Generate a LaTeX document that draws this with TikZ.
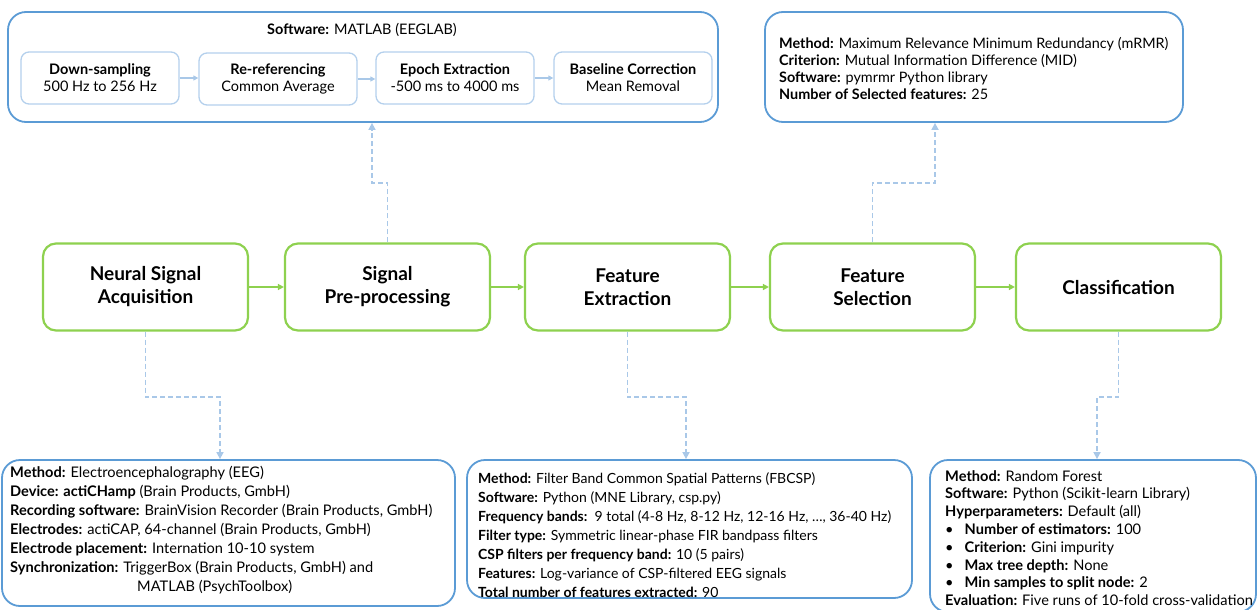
\documentclass[tikz,border=0pt]{standalone}
\usepackage{fontspec}
\setmainfont{Lato}
\usetikzlibrary{arrows.meta}
\definecolor{grn}{HTML}{8ED14F}
\definecolor{bluebd}{HTML}{5B9BD5}
\definecolor{lblue}{HTML}{A9C8E8}
\definecolor{subbd}{HTML}{B4D0EC}
\begin{document}
\begin{tikzpicture}[x=1pt,y=-1pt,
  stage/.style={draw=grn, line width=2.2pt, rounded corners=13pt, minimum width=205pt, minimum height=87pt, align=center, font=\fontsize{19}{23}\selectfont\bfseries, fill=white},
  infobox/.style={draw=bluebd, line width=1.8pt, rounded corners=18pt},
  substep/.style={draw=subbd, line width=1.3pt, rounded corners=8pt, minimum width=158pt, minimum height=52pt, align=center, font=\fontsize{14.5}{17}\selectfont},
  infotext/.style={align=left, inner sep=0pt},
  flow/.style={draw=grn, line width=2pt, -{Triangle[length=6pt,width=6pt]}},
  subflow/.style={draw=lblue, line width=1.5pt, -{Triangle[length=5pt,width=5pt]}},
  link/.style={draw=lblue, line width=1.6pt, dash pattern=on 5pt off 3pt, -{Triangle[length=7pt,width=7pt]}}
]
\useasboundingbox (0,0) rectangle (1258,610);

% main stages
\node[stage] (acq)  at (145.5,287) {Neural Signal\\Acquisition};
\node[stage] (pre)  at (387.5,287) {Signal\\Pre-processing};
\node[stage] (fext) at (627.5,287) {Feature\\Extraction};
\node[stage] (fsel) at (872.5,287) {Feature\\Selection};
\node[stage] (cls)  at (1118.5,287) {Classification};
\draw[flow] (acq) -- (pre);
\draw[flow] (pre) -- (fext);
\draw[flow] (fext) -- (fsel);
\draw[flow] (fsel) -- (cls);

% pre-processing box
\node[infobox, minimum width=710pt, minimum height=110pt] (prebox) at (363,67) {};
\node[font=\fontsize{14.5}{17}\selectfont] (presw) at (362,30) {\textbf{Software:} MATLAB (EEGLAB)};
\node[substep] (ds) at (100,78) {\textbf{Down-sampling}\\500 Hz to 256 Hz};
\node[substep] (rr) at (278,79) {\textbf{Re-referencing}\\Common Average};
\node[substep] (ep) at (455,78) {\textbf{Epoch Extraction}\\-500 ms to 4000 ms};
\node[substep] (bc) at (633,78) {\textbf{Baseline Correction}\\Mean Removal};
\draw[subflow] (ds) -- (ds -| rr.west);
\draw[subflow] (rr) -- (rr -| ep.west);
\draw[subflow] (ep) -- (ep -| bc.west);

% feature selection box
\node[infobox, minimum width=418pt, minimum height=110pt] (fsbox) at (974,67) {};
\node[infotext, anchor=west, font=\fontsize{14.4}{17}\selectfont] (fstext) at (779,68) {%
\textbf{Method:} Maximum Relevance Minimum Redundancy (mRMR)\\
\textbf{Criterion:} Mutual Information Difference (MID)\\
\textbf{Software:} pymrmr Python library\\
\textbf{Number of Selected features:} 25};

% acquisition box
\node[infobox, minimum width=453pt, minimum height=146pt] (acqbox) at (228.5,533) {};
\node[infotext, anchor=west, font=\fontsize{14.6}{19}\selectfont] (acqtext) at (10,530) {%
\textbf{Method:} Electroencephalography (EEG)\\
\textbf{Device: actiCHamp} (Brain Products, GmbH)\\
\textbf{Recording software:} BrainVision Recorder (Brain Products, GmbH)\\
\textbf{Electrodes:} actiCAP, 64-channel (Brain Products, GmbH)\\
\textbf{Electrode placement:} Internation 10-10 system\\
\textbf{Synchronization:} TriggerBox (Brain Products, GmbH) and\\
\hspace*{127pt}MATLAB (PsychToolbox)};

% feature extraction box
\node[infobox, minimum width=445pt, minimum height=138pt] (febox) at (689.5,529) {};
\node[infotext, anchor=west, font=\fontsize{14}{19}\selectfont] (fetext) at (478,535) {%
\textbf{Method:} Filter Band Common Spatial Patterns (FBCSP)\\
\textbf{Software:} Python (MNE Library, csp.py)\\
\textbf{Frequency bands:}\ \ 9 total (4-8 Hz, 8-12 Hz, 12-16 Hz, \dots, 36-40 Hz)\\
\textbf{Filter type:} Symmetric linear-phase FIR bandpass filters\\
\textbf{CSP filters per frequency band:} 10 (5 pairs)\\
\textbf{Features:} Log-variance of CSP-filtered EEG signals\\
\textbf{Total number of features extracted:} 90};

% classification box
\node[infobox, minimum width=326pt, minimum height=152pt] (clbox) at (1093,536) {};
\node[infotext, anchor=west, font=\fontsize{14.6}{17.8}\selectfont] (cltext) at (945,538) {%
\textbf{Method:} Random Forest\\
\textbf{Software:} Python (Scikit-learn Library)\\
\textbf{Hyperparameters:} Default (all)\\
\textbullet\hspace{11pt}\textbf{Number of estimators:} 100\\
\textbullet\hspace{11pt}\textbf{Criterion:} Gini impurity\\
\textbullet\hspace{11pt}\textbf{Max tree depth:} None\\
\textbullet\hspace{11pt}\textbf{Min samples to split node:} 2\\
\textbf{Evaluation:} Five runs of 10-fold cross-validation};

% dashed links
\coordinate (e1) at (372,183);
\coordinate (e2) at (220,397);
\coordinate (e3) at (686,397);
\coordinate (e4) at (935,183);
\coordinate (e5) at (1097,397);
\draw[link] (pre.north) |- (e1) -- (e1 |- prebox.south);
\draw[link] (acq.south) |- (e2) -- (e2 |- acqbox.north);
\draw[link] (fext.south) |- (e3) -- (e3 |- febox.north);
\draw[link] (fsel.north) |- (e4) -- (e4 |- fsbox.south);
\draw[link] (cls.south) |- (e5) -- (e5 |- clbox.north);
\end{tikzpicture}
\end{document}
